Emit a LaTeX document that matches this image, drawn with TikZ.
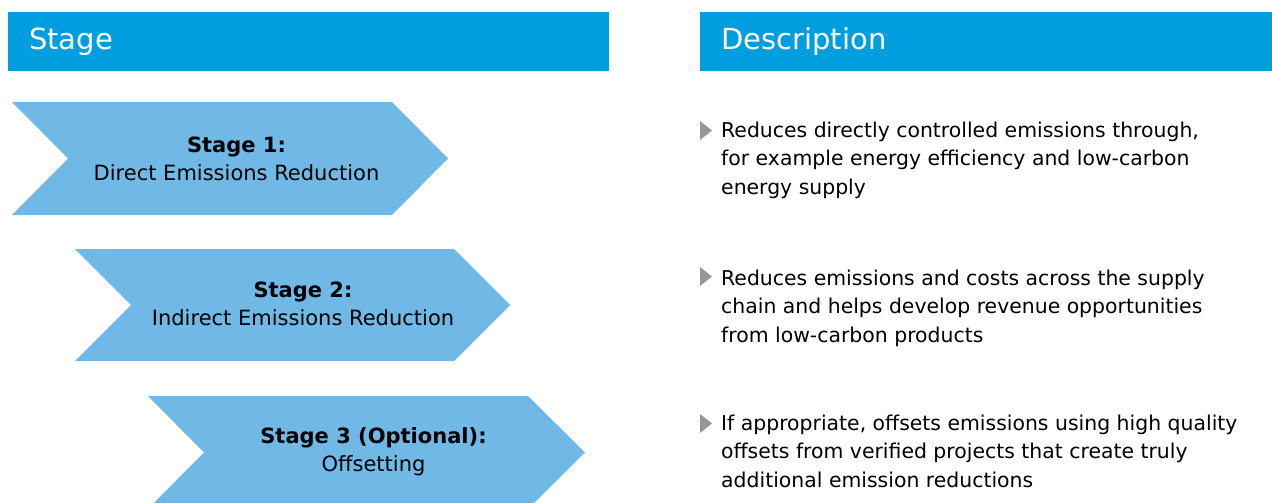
\documentclass[tikz,border=0pt]{standalone}
\usepackage{fontspec}
\setmainfont{DejaVu Sans}
\definecolor{hdrblue}{RGB}{0,158,223}
\definecolor{chevblue}{RGB}{112,185,230}
\definecolor{bulletgray}{RGB}{150,150,150}
\newcommand{\desclines}[3]{\vtop{\baselineskip=28.5pt\hbox{#1}\hbox{#2}\hbox{#3}}}
\newcommand{\chevlines}[2]{\vtop{\baselineskip=28pt\halign{\hfil##\hfil\cr #1\cr #2\cr}}}
\tikzset{
  hdr/.style={fill=hdrblue},
  hdrtext/.style={text=white, anchor=base west, font=\fontsize{29}{34}\selectfont, inner sep=0pt},
  chev/.style={fill=chevblue},
  chevtext/.style={anchor=base, font=\fontsize{21}{28}\selectfont, inner sep=0pt},
  desc/.style={anchor=base west, font=\fontsize{20.4}{28.5}\selectfont, inner sep=0pt},
  bulletmark/.style={fill=bulletgray}
}
\begin{document}
\begin{tikzpicture}[x=1pt,y=-1pt]
\useasboundingbox (0,0) rectangle (1272,503);
% headers
\fill[hdr] (8,12) rectangle (609,71);
\fill[hdr] (700,12) rectangle (1272,71);
\node[hdrtext] (hstage) at (29,50) {Stage};
\node[hdrtext] (hdesc) at (721,50) {Description};
% chevrons
\fill[chev] (12,102) -- (392,102) -- (448,158.5) -- (392,215) -- (12,215) -- (68,158.5) -- cycle;
\fill[chev] (75,249) -- (454,249) -- (510,305) -- (454,361) -- (75,361) -- (131,305) -- cycle;
\fill[chev] (148,396) -- (528,396) -- (585,452.5) -- (528,509) -- (148,509) -- (204,452.5) -- cycle;
\node[chevtext] (s1) at (236.5,152) {\chevlines{\textbf{Stage 1:}}{Direct Emissions Reduction}};
\node[chevtext] (s2) at (303,297) {\chevlines{\textbf{Stage 2:}}{Indirect Emissions Reduction}};
\node[chevtext] (s3) at (373.5,443) {\chevlines{\textbf{Stage 3 (Optional):}}{Offsetting}};
% bullets
\fill[bulletmark] (700,121) -- (712,130.5) -- (700,140) -- cycle;
\fill[bulletmark] (700,267) -- (712,276.5) -- (700,286) -- cycle;
\fill[bulletmark] (700,414) -- (712,423.5) -- (700,433) -- cycle;
\node[desc] (d1) at (721,137) {\desclines{Reduces directly controlled emissions through,}{for example energy efficiency and low-carbon}{energy supply}};
\node[desc] (d2) at (721,285) {\desclines{Reduces emissions and costs across the supply}{chain and helps develop revenue opportunities}{from low-carbon products}};
\node[desc] (d3) at (721,430) {\desclines{If appropriate, offsets emissions using high quality}{offsets from verified projects that create truly}{additional emission reductions}};
\end{tikzpicture}
\end{document}
